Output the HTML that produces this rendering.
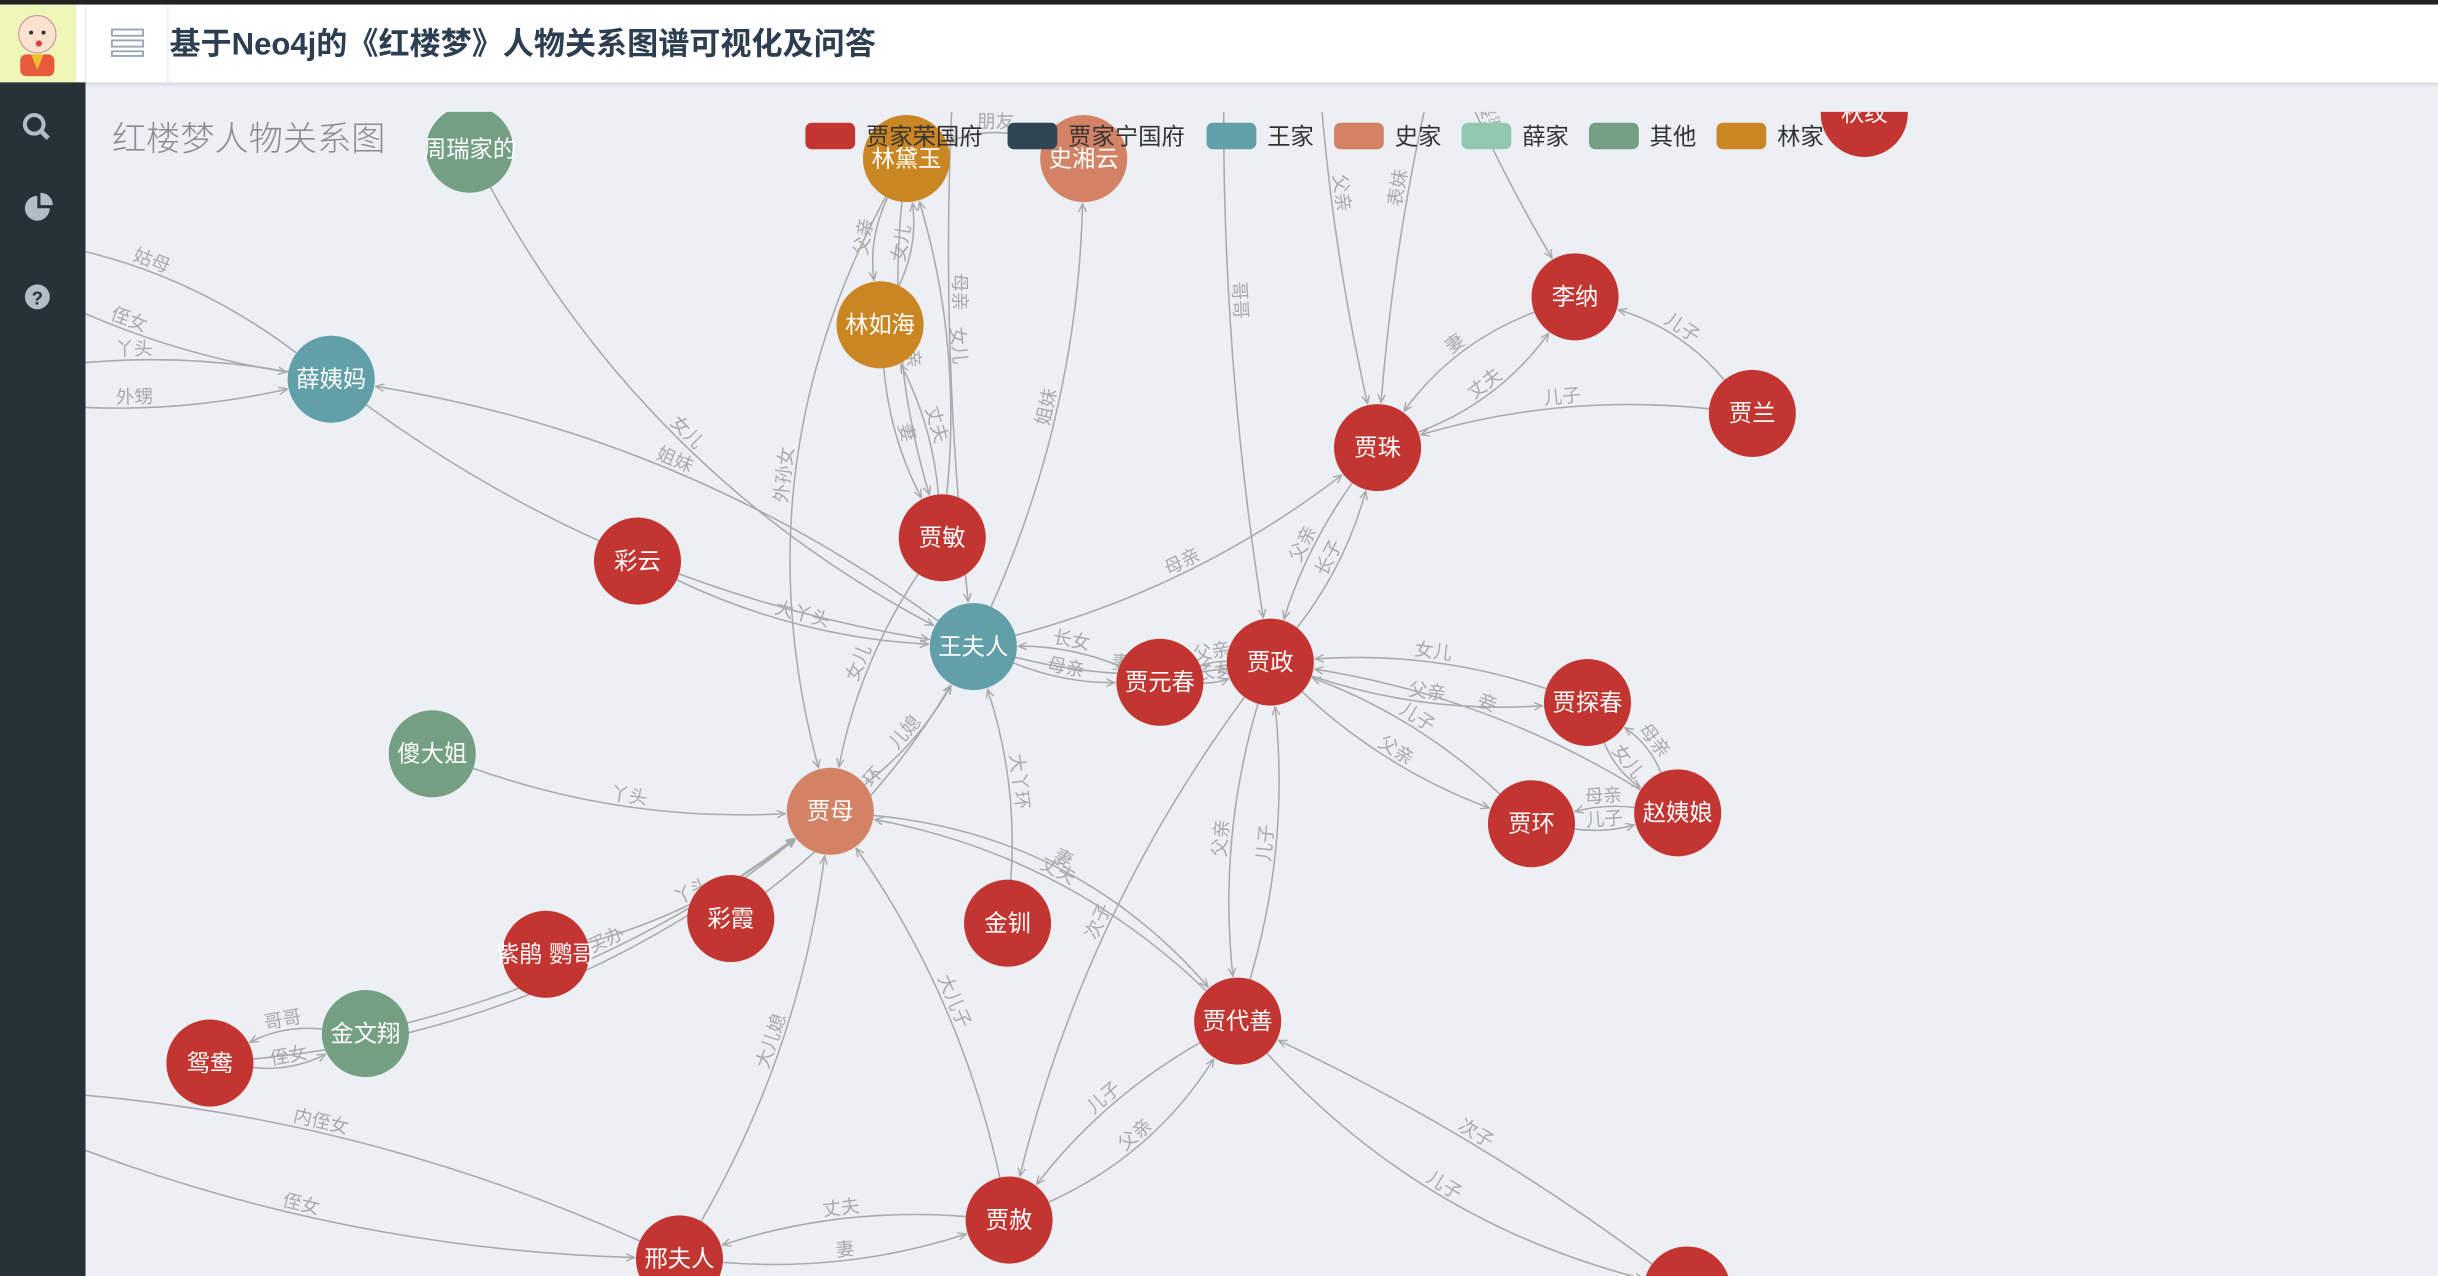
<!DOCTYPE html>
<html><head><meta charset="utf-8">
<style>
html,body{margin:0;padding:0;width:2438px;height:1276px;overflow:hidden;background:#eceff4;}
svg{display:block;font-family:"Liberation Sans","Noto Sans CJK SC",sans-serif;}
</style></head>
<body>
<svg id="svg" width="2438" height="1276" viewBox="0 0 1568 821" preserveAspectRatio="none">
<defs>
<marker id="arr" viewBox="0 0 10 10" refX="9" refY="5" markerWidth="6" markerHeight="6" orient="auto"><path d="M0,1 L9,5 L0,9" fill="none" stroke="#aaa" stroke-width="1.5"/></marker>
<clipPath id="gclip"><rect x="55" y="72" width="1513" height="749"/></clipPath>
</defs>
<rect x="0" y="0" width="1568" height="821" fill="#eceff4"/>
<g id="graph" clip-path="url(#gclip)"></g>
<!-- header -->
<rect x="0" y="0" width="1568" height="3" fill="#222"/>
<rect x="0" y="3" width="1568" height="50" fill="#fff"/>
<rect x="0" y="53" width="1568" height="2" fill="#dde0e6"/>
<g>
<rect x="0" y="3" width="49" height="50" fill="#eef7b8"/>
<circle cx="24" cy="22" r="12" fill="#fbe3cf" stroke="#c9a" stroke-width="0.8"/>
<circle cx="20" cy="21" r="1.3" fill="#333"/><circle cx="28" cy="21" r="1.3" fill="#333"/>
<circle cx="25" cy="28" r="2" fill="#e04040"/>
<rect x="13" y="35" width="22" height="14" rx="4" fill="#e85a3c"/>
<path d="M20 35 L24 45 L28 35" fill="#f0c030"/>
</g>
<line x1="55" y1="3" x2="55" y2="53" stroke="#eee"/>
<line x1="108" y1="3" x2="108" y2="53" stroke="#eee"/>
<g stroke="#9aa5b5" stroke-width="1.2" fill="none">
<rect x="72" y="19" width="20" height="4"/><rect x="72" y="26" width="20" height="4"/><rect x="72" y="33" width="20" height="3"/>
</g>
<text x="109" y="35" font-size="20" font-weight="bold" fill="#2c3e50">基于Neo4j的《红楼梦》人物关系图谱可视化及问答</text>
<!-- sidebar -->
<rect x="0" y="53" width="55" height="768" fill="#263238"/>
<g><circle cx="22" cy="80" r="6" fill="none" stroke="#b0bec5" stroke-width="2.6"/><line x1="26" y1="84" x2="31" y2="89" stroke="#b0bec5" stroke-width="3"/></g>
<g><path d="M24 134 L24 126 A8 8 0 1 0 32 134 Z" fill="#b0bec5"/><path d="M26 132 L26 124 A8 8 0 0 1 34 132 Z" fill="#b0bec5"/></g>
<g><circle cx="24" cy="191" r="8" fill="#b0bec5"/><text x="24" y="196" font-size="12" font-weight="bold" fill="#263238" text-anchor="middle">?</text></g>
<text x="72" y="97" font-size="22" fill="#8c8c8c" font-weight="300">红楼梦人物关系图</text>
<g id="legend"></g>
</svg>
<script>
const categories=["贾家荣国府","贾家宁国府","王家","史家","薛家","其他","林家"];
const catColors=["#c23531","#2f4554","#61a0a8","#d48265","#91c7ae","#749f83","#ca8622"];
const legendX=[518,648,776,858,940,1022,1104];
const nodeNames=["周瑞家的","林黛玉","史湘云","秋纹","林如海","李纳","贾兰","薛姨妈","贾珠","彩云","贾敏","王夫人","贾元春","贾政","贾探春","赵姨娘","贾环","傻大姐","贾母","彩霞","金钏","紫鹃 鹦哥","金文翔","鸳鸯","贾代善","贾赦","邢夫人","","","","","","","","",""];
const nodeCats=[5,6,3,0,6,0,0,2,0,0,0,2,0,0,0,0,0,5,3,0,0,0,5,0,0,0,0,0,0,0,0,0,0,0,0,0];
const nodeX=[302,583,697,1199,566,1013,1127,213,886,410,606,626,746,817,1021,1079,985,278,534,470,648,351,235,135,796,649,437,1085,790,845,905,945,620,-40,-40,-40];
const nodeY=[96,102,102,73,209,191,266,244,288,361,346,416,439,426,452,523,530,485,522,591,594,614,665,684,657,785,810,830,-40,-40,-40,-40,-40,150,250,700];
const edgeFrom=[7,11,0,1,10,4,1,2,4,10,1,10,11,8,13,5,8,6,6,9,12,11,12,13,11,13,14,16,13,15,15,14,15,16,17,18,21,23,22,23,22,19,20,24,24,13,24,13,25,25,26,25,26,24,27,28,29,30,31,32,11,33,7,34,7,35,26,18];
const edgeTo=[11,7,11,10,1,1,4,1,10,4,18,18,8,13,8,8,5,5,8,11,11,12,13,12,13,14,13,13,16,13,14,15,16,15,18,11,18,18,23,22,18,11,11,18,13,24,25,25,24,18,25,26,18,27,24,13,8,5,8,11,2,7,33,7,34,26,35,24];
const edgeLabels=["姐妹","姐妹","女儿","父亲","女儿","女儿","父亲","朋友","妻","丈夫","外孙女","女儿","母亲","父亲","长子","妻","丈夫","儿子","儿子","大丫头","长女","母亲","长女","父亲","妻","父亲","女儿","儿子","父亲","妾","母亲","女儿","母亲","儿子","丫头","儿媳","丫头","丫头","哥哥","侄女","买办","大丫环","大丫环","丈夫","儿子","父亲","儿子","次子","父亲","大儿子","妻","丈夫","大儿媳","儿子","次子","哥哥","父亲","婆婆","表妹","母亲","姐妹","侄女","姑母","外甥","丫头","侄女","内侄女","妻"];
const edgeBend=[0.12,0.12,0.15,0.1,0.1,0.15,0.15,0.2,0.1,0.1,0.2,0.1,0.1,0.08,0.1,0.15,0.15,0.15,0.1,0.1,0.1,0.1,0.1,0.1,0.1,0.1,0.1,0.1,0.1,0.1,0.15,0.15,0.1,0.1,0.1,0.1,0.1,0.15,0.15,0.15,0.1,0.1,0.1,0.15,0.1,0.1,0.1,0.1,0.15,0.1,0.1,0.1,0.1,0.15,0.05,0.05,0.05,0.05,0.05,0.05,0.1,0.1,0.15,0.1,0.1,0.1,0.1,-0.2];
const NS="http://www.w3.org/2000/svg";
const R=28;
const g=document.getElementById('graph');
const eg=document.createElementNS(NS,'g');
g.appendChild(eg);
for(let i=0;i<edgeFrom.length;i++){
  const a=edgeFrom[i],b=edgeTo[i];
  const x0=nodeX[a],y0=nodeY[a],x2=nodeX[b],y2=nodeY[b];
  const dx=x2-x0,dy=y2-y0,L=Math.hypot(dx,dy)||1;
  const k=edgeBend[i];
  const cx=(x0+x2)/2-dy*k, cy=(y0+y2)/2+dx*k;
  let sx=cx-x0,sy=cy-y0,sl=Math.hypot(sx,sy)||1;
  const px=x0+sx/sl*R, py=y0+sy/sl*R;
  let tx=cx-x2,ty=cy-y2,tl=Math.hypot(tx,ty)||1;
  const qx=x2+tx/tl*(R+1), qy=y2+ty/tl*(R+1);
  const p=document.createElementNS(NS,'path');
  p.setAttribute('d',`M${px},${py} Q${cx},${cy} ${qx},${qy}`);
  p.setAttribute('fill','none');p.setAttribute('stroke','#aaa');p.setAttribute('stroke-width','1');
  p.setAttribute('marker-end','url(#arr)');
  
  
  eg.appendChild(p);
  const mx=0.25*px+0.5*cx+0.25*qx, my=0.25*py+0.5*cy+0.25*qy;
  let ang=Math.atan2(qy-py,qx-px)*180/Math.PI;
  if(ang>90)ang-=180; if(ang<-90)ang+=180;
  const t=document.createElementNS(NS,'text');
  t.setAttribute('x',mx);t.setAttribute('y',my-3);
  t.setAttribute('font-size','12');t.setAttribute('fill','#aaa');t.setAttribute('text-anchor','middle');
  t.setAttribute('transform',`rotate(${ang} ${mx} ${my})`);
  
  
  t.textContent=edgeLabels[i];
  eg.appendChild(t);
}
for(let i=0;i<nodeNames.length;i++){
  if(nodeY[i]<0||nodeX[i]<0)continue;
  const c=document.createElementNS(NS,'circle');
  c.setAttribute('cx',nodeX[i]);c.setAttribute('cy',nodeY[i]);c.setAttribute('r',R);
  c.setAttribute('fill',catColors[nodeCats[i]]);
  
  
  g.appendChild(c);
  const t=document.createElementNS(NS,'text');
  t.setAttribute('x',nodeX[i]);t.setAttribute('y',nodeY[i]+5);
  t.setAttribute('font-size','15');t.setAttribute('fill','#fff');t.setAttribute('text-anchor','middle');
  
  
  t.textContent=nodeNames[i];
  g.appendChild(t);
}
const lg=document.getElementById('legend');
for(let i=0;i<categories.length;i++){
  const r=document.createElementNS(NS,'rect');
  r.setAttribute('x',legendX[i]);r.setAttribute('y',79);r.setAttribute('width',32);r.setAttribute('height',17);r.setAttribute('rx',4);
  r.setAttribute('fill',catColors[i]);
  
  
  lg.appendChild(r);
  const t=document.createElementNS(NS,'text');
  t.setAttribute('x',legendX[i]+39);t.setAttribute('y',93);t.setAttribute('font-size','15');t.setAttribute('fill','#333');
  
  
  t.textContent=categories[i];
  lg.appendChild(t);
}
</script>
</body></html>
